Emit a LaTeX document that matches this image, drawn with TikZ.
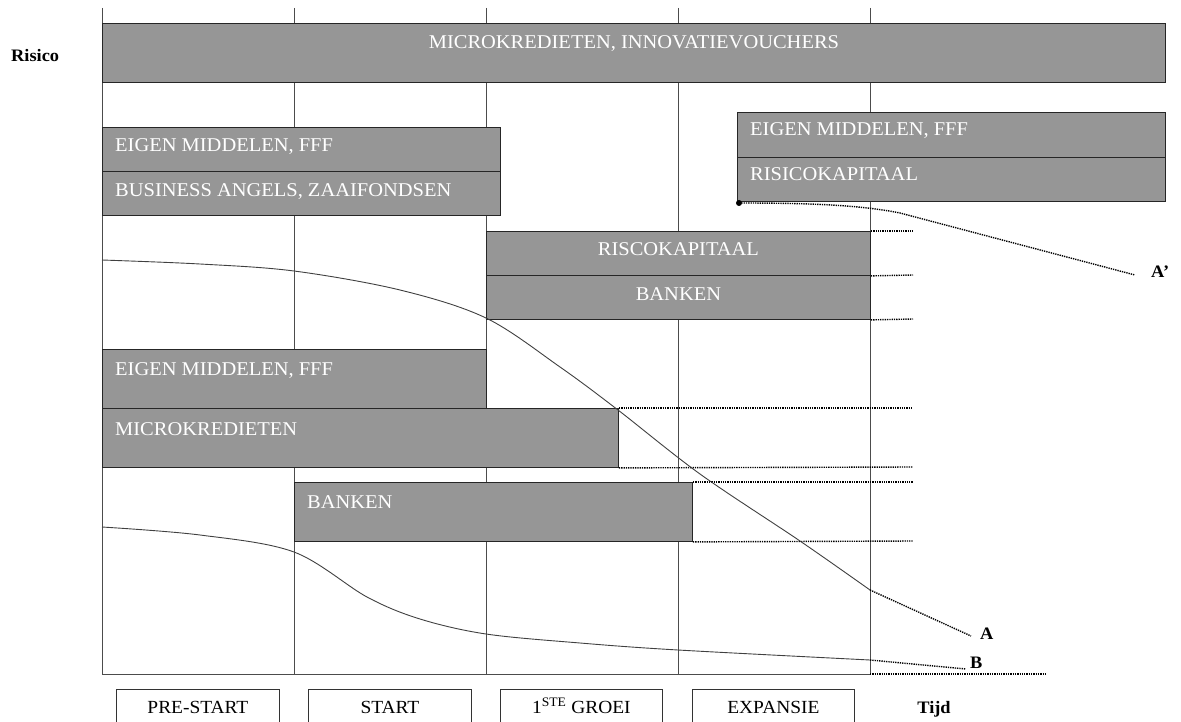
\documentclass[tikz,border=0pt]{standalone}
\usepackage{fontspec}
\setmainfont{Liberation Serif}[FakeStretch=1.05]
\begin{document}
\begin{tikzpicture}[x=1pt,y=-1pt,
  grid/.style={draw=black!70, line width=0.9pt},
  gbox/.style={draw=black!85, fill=black!41, line width=0.9pt, inner sep=0pt, anchor=north west},
  btxt/.style={text=white, font=\fontsize{19.5}{21}\selectfont, inner sep=0pt},
  lbox/.style={draw=black!80, line width=0.8pt, inner sep=0pt, anchor=north west, minimum height=33pt},
  ltxt/.style={font=\fontsize{18.5}{20}\selectfont, inner sep=0pt, anchor=base},
  bold/.style={font=\fontsize{17.5}{18}\selectfont\bfseries, inner sep=0pt},
  ext/.style={line width=1.4pt, dash pattern=on 1.3pt off 1pt},
  crv/.style={draw=black!75, line width=0.9pt}]
\useasboundingbox (0,0) rectangle (1181,722);
% grid
\coordinate (o) at (102,674);
\coordinate (t0) at (102,8);
\foreach \x/\n in {294/1,486/2,678/3,870/4}{
  \coordinate (t\n) at (\x,8);
  \coordinate (b\n) at (\x,674);
  \draw[grid] (t\n) -- (b\n);
}
\draw[grid] (t0) -- (o) -- (b4);
% boxes
\node[gbox, minimum width=1063pt, minimum height=59pt] (top) at (102,23) {};
\node[gbox, minimum width=398pt, minimum height=44pt] (ul1) at (102,127) {};
\node[gbox, minimum width=398pt, minimum height=44pt] (ul2) at (102,171) {};
\node[gbox, minimum width=428pt, minimum height=45pt] (ur1) at (737,112) {};
\node[gbox, minimum width=428pt, minimum height=44pt] (ur2) at (737,157) {};
\node[gbox, minimum width=384pt, minimum height=44pt] (rk) at (486,231) {};
\node[gbox, minimum width=384pt, minimum height=44pt] (bk) at (486,275) {};
\node[gbox, minimum width=384pt, minimum height=59pt] (em) at (102,349) {};
\node[gbox, minimum width=516pt, minimum height=59pt] (mk) at (102,408) {};
\node[gbox, minimum width=398pt, minimum height=59pt] (bn) at (294,482) {};
% box texts
\node[btxt, anchor=base] (ttop) at ([shift={(0,26)}]top.north) {MICROKREDIETEN, INNOVATIEVOUCHERS};
\node[btxt, anchor=base west] (tul1) at ([shift={(13,25)}]ul1.north west) {EIGEN MIDDELEN, FFF};
\node[btxt, anchor=base west] (tul2) at ([shift={(13,26)}]ul2.north west) {BUSINESS ANGELS, ZAAIFONDSEN};
\node[btxt, anchor=base west] (tur1) at ([shift={(13,24)}]ur1.north west) {EIGEN MIDDELEN, FFF};
\node[btxt, anchor=base west] (tur2) at ([shift={(13,24)}]ur2.north west) {RISICOKAPITAAL};
\node[btxt, anchor=base] (trk) at ([shift={(0,25)}]rk.north) {RISCOKAPITAAL};
\node[btxt, anchor=base] (tbk) at ([shift={(0,25)}]bk.north) {BANKEN};
\node[btxt, anchor=base west] (tem) at ([shift={(13,26)}]em.north west) {EIGEN MIDDELEN, FFF};
\node[btxt, anchor=base west] (tmk) at ([shift={(13,27)}]mk.north west) {MICROKREDIETEN};
\node[btxt, anchor=base west] (tbn) at ([shift={(13,26)}]bn.north west) {BANKEN};
% dotted extensions
\coordinate (e1) at (913,231); \coordinate (e2) at (913,275); \coordinate (e3) at (913,319);
\coordinate (e4) at (913,408); \coordinate (e5) at (913,467);
\coordinate (e6) at (913,482); \coordinate (e7) at (913,541);
\draw[ext] (rk.north east) -- (e1);
\draw[ext] (rk.south east) -- (e2);
\draw[ext] (bk.south east) -- (e3);
\draw[ext] (mk.north east) -- (e4);
\draw[ext] (mk.south east) -- (e5);
\draw[ext] (bn.north east) -- (e6);
\draw[ext] (bn.south east) -- (e7);
\coordinate (e8) at (1046,674);
\draw[ext] (b4) -- (e8);
% A' path
\coordinate (dA1) at (739,203);
\coordinate (dA2) at (1135,275);
\fill (dA1) circle (3pt);
\draw[ext] (dA1) .. controls (810,203) and (860,205) .. (900,213) -- (dA2);
\node[bold, anchor=base west] (lA1) at (1151,277) {A'};
% curve A
\draw[crv] plot[smooth, tension=0.55] coordinates {(102,260) (200,264) (294,271) (400,290) (486,318) (560,367) (618,410) (700,474) (800,541) (870,590)};
\coordinate (cA) at (870,590);
\coordinate (dA) at (971,636);
\draw[ext] (cA) -- (dA);
\node[bold, anchor=base west] (lA) at (980,639) {A};
% curve B
\draw[crv] plot[smooth, tension=0.55] coordinates {(102,527) (200,535) (294,552) (367,597) (420,619) (486,634) (580,643) (678,650) (870,660)};
\coordinate (cB) at (870,660);
\coordinate (dB) at (966,669);
\draw[ext] (cB) -- (dB);
\node[bold, anchor=base west] (lB) at (970,668) {B};
% labels
\node[bold, anchor=base west] (risico) at (11,62) {Risico};
\node[lbox, minimum width=163pt] (ps) at (116,689) {};
\node[lbox, minimum width=163pt] (st) at (308,689) {};
\node[lbox, minimum width=162pt] (gr) at (500,689) {};
\node[lbox, minimum width=162pt] (ex) at (692,689) {};
\node[ltxt] (tps) at ([shift={(0,24)}]ps.north) {PRE-START};
\node[ltxt] (tst) at ([shift={(0,24)}]st.north) {START};
\node[ltxt] (tgr) at ([shift={(0,24)}]gr.north) {1\textsuperscript{STE} GROEI};
\node[ltxt] (tex) at ([shift={(0,24)}]ex.north) {EXPANSIE};
\node[bold, anchor=base] (tijd) at (934,713) {Tijd};
\end{tikzpicture}
\end{document}
